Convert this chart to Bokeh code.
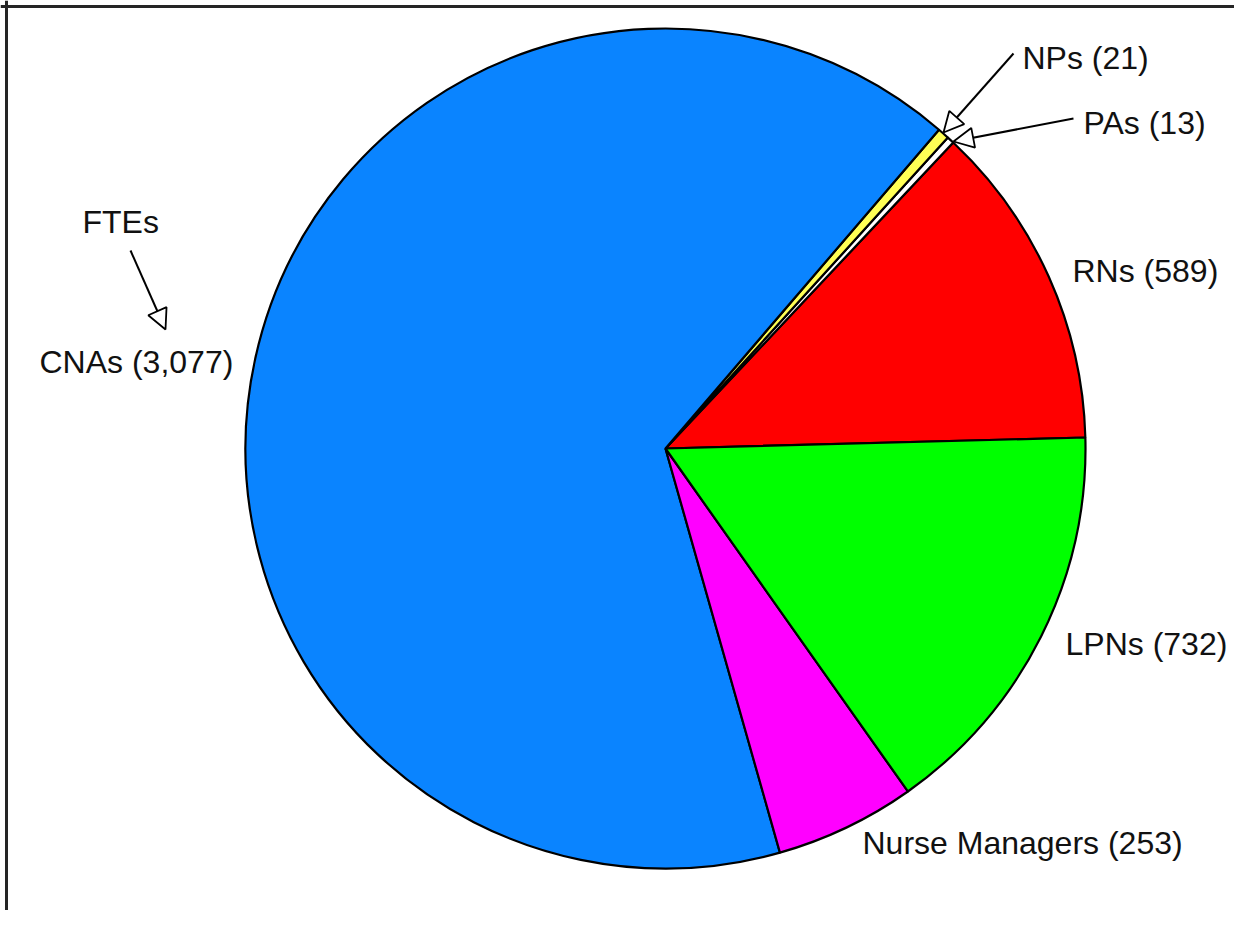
import math
from bokeh.plotting import figure
from bokeh.models import ColumnDataSource, Range1d, Arrow, NormalHead, Span
from bokeh.core.properties import value
from bokeh.embed import file_html
from bokeh.resources import INLINE

# ---- data (counterclockwise order starting at the RN/LPN boundary) ----
categories = ["RNs", "PAs", "NPs", "CNAs", "Nurse Managers", "LPNs"]
ftes = [589, 13, 21, 3077, 253, 732]
colors = ["#ff0000", "#ffffff", "#ffff55", "#0a84ff", "#ff00ff", "#00ff00"]

# ---- layout (image pixel coordinates, y down) ----
W, H = 1234, 910
IMG_H = 926
def Y(y):
    return IMG_H - y

cx, cy, R = 665, 448, 420
start_deg = 1.5

label_pos = {
    "NPs": (1022, 57),
    "PAs": (1083, 122),
    "RNs": (1072, 270),
    "LPNs": (1065, 643),
    "Nurse Managers": (862, 842),
    "CNAs": (39, 361),
}

total = sum(ftes)
starts, ends = [], []
a = math.radians(start_deg)
for v in ftes:
    starts.append(a)
    a += 2 * math.pi * v / total
    ends.append(a)

src = ColumnDataSource(dict(start=starts, end=ends, color=colors,
                            x=[cx] * len(ftes), y=[Y(cy)] * len(ftes)))

p = figure(width=W, height=H, x_range=Range1d(0, W), y_range=Range1d(IMG_H - H, IMG_H),
           output_backend="svg", toolbar_location=None, min_border=0,
           background_fill_color="white", border_fill_color="white")
p.axis.visible = False
p.grid.visible = False
p.outline_line_color = None

p.wedge(x="x", y="y", radius=R, start_angle="start", end_angle="end",
        fill_color="color", line_color="black", line_width=2.2, source=src)

lx, ly, lt = [], [], []
for c, v in zip(categories, ftes):
    px, py = label_pos[c]
    lx.append(px)
    ly.append(Y(py))
    lt.append(f"{c} ({v:,})")
lx.append(82)
ly.append(Y(221))
lt.append("FTEs")
lsrc = ColumnDataSource(dict(x=lx, y=ly, text=lt))
p.text(x="x", y="y", text="text", source=lsrc, text_font=value("Liberation Sans"),
       text_font_size="32px", text_align="left", text_baseline="middle", text_color="#111111")

def arrow(x0, y0, x1, y1):
    p.add_layout(Arrow(end=NormalHead(size=20, fill_color="white", line_color="black", line_width=1.8),
                       x_start=x0, y_start=Y(y0), x_end=x1, y_end=Y(y1),
                       line_color="black", line_width=2))

arrow(1013, 53, 943, 132)
arrow(1073, 118, 953, 141)
arrow(130, 250, 165, 329)

p.add_layout(Span(location=Y(6), dimension="width", line_color="#252525", line_width=3))
p.add_layout(Span(location=6, dimension="height", line_color="#252525", line_width=3))

open("out.html", "w").write(file_html(p, INLINE))
